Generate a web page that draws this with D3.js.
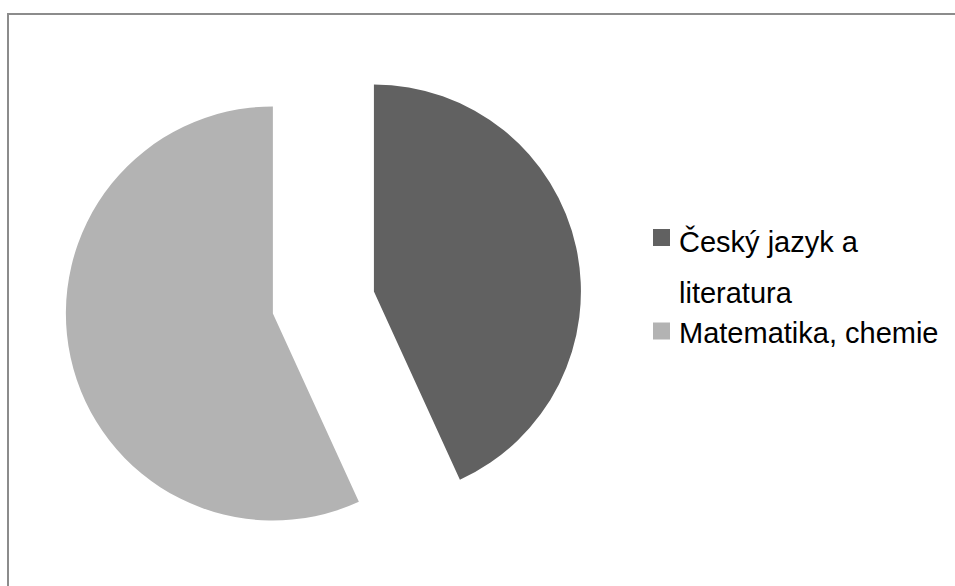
<!DOCTYPE html>
<html>
<head>
<meta charset="utf-8">
<script src="https://cdn.jsdelivr.net/npm/d3@7"></script>
<style>
  body { margin: 0; background: #fff; }
  svg { display: block; }
</style>
</head>
<body>
<svg id="chart"></svg>
<script>
// Data
var categories = ['Český jazyk a literatura', 'Matematika, chemie'];
var values = [19, 25];
var legendLines = [['Český jazyk a', 'literatura'], ['Matematika, chemie']];
var colors = ['#616161', '#b3b3b3'];

// Canvas size
var canvasWidth = 955;
var canvasHeight = 586;

// Pie geometry
var cx = 323.4;
var cy = 302.5;
var radius = 207;
var explode = 51.7;

var svg = d3.select('#chart')
  .attr('width', canvasWidth)
  .attr('height', canvasHeight);

// Chart frame (runs off the right and bottom edges)
svg.append('rect')
  .attr('x', 8)
  .attr('y', 14)
  .attr('width', canvasWidth + 20)
  .attr('height', canvasHeight + 20)
  .attr('fill', 'none')
  .attr('stroke', '#8c8c8c')
  .attr('stroke-width', 2);

var pie = d3.pie()
  .sort(null)
  .value(function(d) { return d; });

var arc = d3.arc()
  .innerRadius(0)
  .outerRadius(radius);

var slices = svg.append('g')
  .classed('slices', true)
  .attr('transform', 'translate(' + cx + ',' + cy + ')');

slices.selectAll('path')
  .data(pie(values))
  .enter()
  .append('path')
  .attr('d', arc)
  .attr('fill', function(d, i) { return colors[i]; })
  .attr('transform', function(d) {
    var mid = (d.startAngle + d.endAngle) / 2;
    return 'translate(' + (Math.sin(mid) * explode) + ',' + (-Math.cos(mid) * explode) + ')';
  });

// Legend
var legendX = 653;
var textX = 679;
var fontSize = 29;
var baselines = [[252, 302.5], [343]];
var boxY = [229, 322.5];

var legend = svg.append('g')
  .classed('legend', true);

categories.forEach(function(c, i) {
  legend.append('rect')
    .attr('x', legendX)
    .attr('y', boxY[i])
    .attr('width', 17)
    .attr('height', 17)
    .attr('fill', colors[i]);

  legendLines[i].forEach(function(line, j) {
    legend.append('text')
      .attr('x', textX)
      .attr('y', baselines[i][j])
      .attr('font-family', 'Liberation Sans, Arial, sans-serif')
      .attr('font-size', fontSize)
      .attr('fill', '#000')
      .text(line);
  });
});
</script>
</body>
</html>
